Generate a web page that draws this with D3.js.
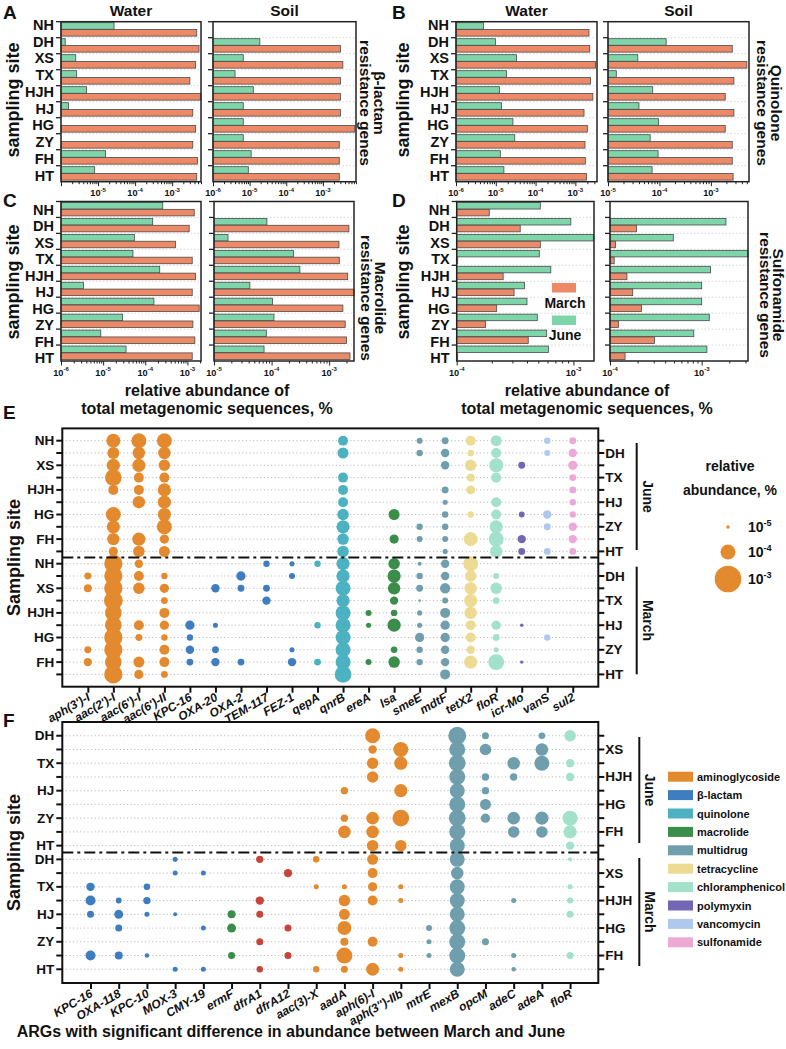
<!DOCTYPE html>
<html><head><meta charset="utf-8">
<script src="https://cdn.jsdelivr.net/npm/d3@7"></script>
<style>
body{margin:0;background:#fff}
svg{display:block}
text{font-family:"Liberation Sans",Arial,Helvetica,sans-serif;fill:#111}
</style>
</head><body>
<svg id="chart" width="786" height="1049"></svg>
<script>
// ---------------- DATA ----------------
const sites = ["NH","DH","XS","TX","HJH","HJ","HG","ZY","FH","HT"];
const seasons = ["March","June"];

// Panel A: beta-lactam resistance genes (relative abundance, %)
const betaWaterJune  = [2.7e-5,1.3e-6,2.5e-6,2.65e-6,4.9e-6,1.6e-6,0,0,1.6e-5,8.1e-6];
const betaWaterMarch = [4.6e-3,5.3e-3,4.3e-3,3.0e-3,6.0e-3,3.6e-3,4.3e-3,3.6e-3,4.8e-3,4.6e-3];
const betaSoilJune   = [0,1.9e-5,6.7e-6,4.0e-6,1.26e-5,6.7e-6,6.7e-6,6.7e-6,1.1e-5,9.2e-6];
const betaSoilMarch  = [0,3.0e-3,3.5e-3,3.0e-3,3.0e-3,3.0e-3,7.4e-3,2.8e-3,2.8e-3,2.8e-3];
// Panel B: quinolone
const quinWaterJune  = [4.9e-6,9.8e-6,3.3e-5,1.85e-5,1.24e-5,1.4e-5,2.7e-5,3.0e-5,1.3e-5,1.6e-5];
const quinWaterMarch = [2.2e-3,2.3e-3,3.2e-3,2.4e-3,2.75e-3,1.65e-3,2.0e-3,1.75e-3,1.78e-3,1.9e-3];
const quinSoilJune   = [0,1.35e-4,3.8e-5,1.45e-5,7.4e-5,4.0e-5,9.6e-5,6.6e-5,9.4e-5,7.2e-5];
const quinSoilMarch  = [0,2.6e-3,5.0e-3,2.8e-3,1.9e-3,2.8e-3,1.9e-3,2.6e-3,2.6e-3,2.7e-3];
// Panel C: macrolide
const macWaterJune   = [2.6e-4,1.5e-4,5.5e-5,5.1e-5,2.2e-4,3.4e-6,1.6e-4,2.9e-5,8.8e-6,3.5e-5];
const macWaterMarch  = [1.45e-3,1.1e-3,5.2e-4,1.3e-3,1.55e-3,1.3e-3,1.9e-3,1.35e-3,1.5e-3,1.3e-3];
const macSoilJune    = [0,8.3e-5,1.75e-5,2.4e-4,3.1e-4,4.2e-5,1.04e-4,1.1e-4,8.1e-5,7.4e-5];
const macSoilMarch   = [0,2.2e-3,1.48e-3,1.5e-3,2.1e-3,2.7e-3,1.73e-3,1.9e-3,2.0e-3,2.3e-3];
// Panel D: sulfonamide
const sulWaterJune   = [5.2e-4,9.5e-4,1.48e-3,5.1e-4,6.4e-4,3.8e-4,4.0e-4,4.9e-4,5.9e-4,6.1e-4];
const sulWaterMarch  = [1.9e-4,3.5e-4,5.2e-4,1.02e-4,2.5e-4,3.1e-4,2.2e-4,1.77e-4,4.1e-4,1.02e-4];
const sulSoilJune    = [0,1.84e-3,4.9e-4,3.2e-3,1.25e-3,1.0e-3,1.0e-3,1.21e-3,8.2e-4,1.14e-3];
const sulSoilMarch   = [0,1.95e-4,1.15e-4,1.11e-4,1.53e-4,1.77e-4,2.2e-4,1.24e-4,3.05e-4,1.46e-4];

// Panel E / F bubble values in units of 1e-5 % (0 = not detected)
const UNIT = 1e-5;
const eGenes = ["aph(3')-I","aac(2')-I","aac(6')-I","aac(6')-II","KPC-16","OXA-20","OXA-2","TEM-117","FEZ-1","qepA","qnrB","ereA","lsa","smeE","mdtF","tetX2","floR","icr-Mo","vanS","sul2"];
const eClass = ["aminoglycoside","aminoglycoside","aminoglycoside","aminoglycoside","β-lactam","β-lactam","β-lactam","β-lactam","β-lactam","quinolone","quinolone","macrolide","macrolide","multidrug","multidrug","tetracycline","chloramphenicol","polymyxin","vancomycin","sulfonamide"];
// rows: NH, DH, XS, TX, HJH, HJ, HG, ZY, FH, HT
const eJune = [
  [0,0,0,0,0,0,0,0,0,0],
  [8.2,5.5,7,14,3.7,0,10,7,6,3.2],
  [10,6,7,3.7,3.7,6,0,0,7,5],
  [10,6,5,3.7,7,7,7,10,3.2,4.5],
  [0,0,0,0,0,0,0,0,0,0],
  [0,0,0,0,0,0,0,0,0,0],
  [0,0,0,0,0,0,0,0,0,0],
  [0,0,0,0,0,0,0,0,0,0],
  [0,0,0,0,0,0,0,0,0,0],
  [0,0,0,0,0,0,0,0,0,0],
  [3.7,4.5,0,3.7,3.7,3.7,5,7,5,5],
  [0,0,0,0,0,0,0,0,0,0],
  [0,0,0,0,0,0,4.5,0,3.2,0],
  [1.67,1.8,0,0,0,0,0,1.8,1.67,0],
  [2.0,2.7,2.7,0,2.0,1.4,1.8,1.8,1.67,1.4],
  [3.7,1.8,5,2.7,3.0,0,1.8,0,8.2,0],
  [4.5,3.7,8.2,3.7,0,3.7,3.7,7,10,6],
  [0,0,2.0,0,0,0,1.6,0,2.7,2.0],
  [1.8,1.67,0,0,0,0,2.7,2.0,0,2.0],
  [2.0,2.7,3.2,2.0,2.0,1.8,1.8,2.7,2.7,2.0]
];
const eMarch = [
  [0,2.0,2.5,0,0,0,0,2.0,2.7,0],
  [19,19,19,21,14,14,19,19,14,19],
  [2.7,3.7,5,0,0,3.7,2.0,0,4.5,3.2],
  [0,1.8,3.2,2.0,3.7,3.2,1.8,3.7,3.7,2.0],
  [0,0,0,0,0,3.2,1.8,2.7,2.0,0],
  [0,0,2.7,0,0,1.4,0,2.0,2.7,0],
  [0,3.2,2.0,0,0,0,0,0,2.0,0],
  [1.8,0,2.0,2.7,0,0,0,0,0,0],
  [1.4,1.67,0,0,0,0,0,1.4,2.7,0],
  [1.8,0,0,0,0,1.8,0,0,2.0,0],
  [7,7,10,7,10,10,10,10,10,14],
  [0,0,0,0,1.67,1.4,0,0,1.67,0],
  [5,7,6,2.7,1.8,7,0,1.8,5,0],
  [1.13,1.8,2.0,0.85,1.4,1.4,3.2,1.8,1.8,0],
  [2.7,2.7,4.0,1.67,3.7,3.2,3.2,2.7,2.7,3.7],
  [10,5,6,7,6,3.7,3.7,2.7,7,0],
  [0,1.67,5,2.0,0,3.2,2.0,1.4,12,0],
  [0,0,0,0,0,1.0,0,0,1.0,0],
  [0,0,0,0,0,0,1.8,0,0,0],
  [0,0,0,0,0,0,0,0,0,0]
];

const fSites = ["DH","XS","TX","HJH","HJ","HG","ZY","FH","HT"];
const fGenes = ["KPC-16","OXA-118","KPC-10","MOX-3","CMY-19","ermF","dfrA1","dfrA12","aac(3)-X","aadA","aph(6)-I","aph(3'')-IIb","mtrE","mexB","opcM","adeC","adeA","floR"];
const fClass = ["β-lactam","β-lactam","β-lactam","β-lactam","β-lactam","macrolide","trimethoprim","trimethoprim","aminoglycoside","aminoglycoside","aminoglycoside","aminoglycoside","multidrug","multidrug","multidrug","multidrug","multidrug","chloramphenicol"];
// rows: DH, XS, TX, HJH, HJ, HG, ZY, FH, HT
const fJune = [
  [0,0,0,0,0,0,0,0,0],
  [0,0,0,0,0,0,0,0,0],
  [0,0,0,0,0,0,0,0,0],
  [0,0,0,0,0,0,0,0,0],
  [0,0,0,0,0,0,0,0,0],
  [0,0,0,0,0,0,0,0,0],
  [0,0,0,0,0,0,0,0,0],
  [0,0,0,0,0,0,0,0,0],
  [0,0,0,0,0,0,0,0,0],
  [0,0,0,0,2.2,0,2.2,6.2,0],
  [10,2.7,5,5,0,0,6.2,6.2,5],
  [0,10,7,0,7,0,14,0,5],
  [0,0,0,0,0,0,0,0,0],
  [18,12,14,12,10,12,14,12,10],
  [2.05,5,0,2.2,2.2,4.5,3.2,0,0],
  [0,0,6.2,2.2,0,0,6.2,5,0],
  [1.9,6.2,10,0,0,0,7,5,0],
  [5,0,2.7,2.7,0,0,10,7,2.7]
];
const fMarch = [
  [0,0,2.7,3.7,2.05,0,0,3.7,0],
  [0,0,0,1.67,3.0,2.05,0,2.5,0],
  [0,0,1.9,2.2,1.38,0,0,1.25,0],
  [1.38,1.38,0,0,1.13,0,0,0,1.38],
  [0,1.38,0,0,0,1.38,0,0,1.38],
  [0,0,0,0,2.5,3.0,0,2.05,0],
  [2.2,0,0,2.7,2.05,0,2.05,0,1.85],
  [0,2.7,0,0,0,2.05,0,2.05,0],
  [1.9,0,1.38,0,0,0,0,0,1.85],
  [0,0,1.38,5,4.5,8.2,2.5,12,2.05],
  [4.5,3.7,3.2,3.7,0,0,3.7,0,6.7],
  [0,0,1.38,1.38,0,0,0,1.38,1.38],
  [0,0,0,0,0,1.67,1.38,1.38,0],
  [10,6.2,10,10,10,12,12,12,10],
  [0,0,0,0,0,0,2.05,0,0],
  [0,0,0,1.38,0,0,0,1.38,1.25],
  [0,0,0,0,0,0,0,0,0],
  [1.13,0,1.38,1.67,2.05,0,0,2.05,0]
];
const legendClasses = ["aminoglycoside","β-lactam","quinolone","macrolide","multidrug","tetracycline","chloramphenicol","polymyxin","vancomycin","sulfonamide"];
const sizeLegend = [1e-5,1e-4,1e-3];

// ---------------- STYLE ----------------
const ORANGE = "#EC8A67", GREEN = "#7FD5AA";
const classColor = {
  "aminoglycoside":"#E48A2E","β-lactam":"#3E7DC0","quinolone":"#4CB2C1","macrolide":"#3A8E49",
  "multidrug":"#6F9EAC","tetracycline":"#EEDB93","chloramphenicol":"#A2E1CA","polymyxin":"#7366B6",
  "vancomycin":"#AEC8EE","sulfonamide":"#ECA9D6","trimethoprim":"#C8433A"
};
const svg = d3.select("#chart");
const rScale = d3.scaleLog().domain([1e-5,1e-3]).range([1.7,13.3]);

function T(g,x,y,s,o={}){
  const t=g.append("text").attr("x",x).attr("y",y).text(s)
    .attr("font-size",o.size||14).attr("font-weight",o.weight||"bold")
    .attr("text-anchor",o.anchor||"start");
  if(o.italic) t.attr("font-style","italic");
  if(o.baseline) t.attr("dominant-baseline",o.baseline);
  if(o.rotate!==undefined) t.attr("transform",`rotate(${o.rotate},${x},${y})`);
  return t;
}
function pow10(g,x,y,exp,size,anchor){
  const t=g.append("text").attr("x",x).attr("y",y).attr("text-anchor",anchor||"middle")
    .attr("font-size",size).attr("font-weight","bold");
  t.append("tspan").text("10");
  t.append("tspan").attr("dy",-size*0.45).attr("font-size",size*0.65).text("-"+(-exp));
  return t;
}

// ---------------- BAR PANELS ----------------
function barPanel(c){
  const g=svg.append("g");
  const x=d3.scaleLog().domain(c.domain).range([c.x0,c.x1]);
  const y=d3.scaleBand().domain(sites).range([c.y0,c.y1]);
  const bh=y.step()*0.41;
  g.selectAll(null).data(sites.slice(1)).join("line")
    .attr("x1",c.x0).attr("x2",c.x1).attr("y1",d=>y(d)).attr("y2",d=>y(d))
    .attr("stroke","#c4c4c4").attr("stroke-width",0.7).attr("stroke-dasharray","1.5,2");
  const jd=sites.map((s,i)=>({s,v:c.june[i]})).filter(d=>d.v>0);
  const md=sites.map((s,i)=>({s,v:c.march[i]})).filter(d=>d.v>0);
  g.selectAll(null).data(jd).join("rect")
    .attr("x",c.x0).attr("y",d=>y(d.s)+1).attr("width",d=>x(d.v)-c.x0).attr("height",bh)
    .attr("fill",GREEN).attr("stroke","#4a4a4a").attr("stroke-width",0.8);
  g.selectAll(null).data(md).join("rect")
    .attr("x",c.x0).attr("y",d=>y(d.s)+1.3+bh).attr("width",d=>x(d.v)-c.x0).attr("height",bh)
    .attr("fill",ORANGE).attr("stroke","#4a4a4a").attr("stroke-width",0.8);
  const tv=[];
  for(let e=-7;e<=-1;e++) for(let m=1;m<10;m++){const v=m*Math.pow(10,e); if(v>=c.domain[0]*0.999&&v<=c.domain[1]*1.001) tv.push(v);}
  const ax=g.append("g").attr("transform",`translate(0,${c.y1})`)
    .call(d3.axisBottom(x).tickValues(tv).tickFormat("").tickSizeOuter(0));
  ax.select(".domain").remove();
  ax.selectAll(".tick line").attr("stroke","#222").attr("stroke-width",1)
    .attr("y2",d=>Math.abs(Math.log10(d)-Math.round(Math.log10(d)))<1e-6?4.5:2.5);
  c.labels.forEach(e=>pow10(g,x(Math.pow(10,e)),c.y1+14.5,e,9.2));
  g.selectAll(null).data(sites).join("line")
    .attr("x1",c.x0-5).attr("x2",c.x0).attr("y1",d=>y(d)).attr("y2",d=>y(d))
    .attr("stroke","#222").attr("stroke-width",1.3);
  g.append("rect").attr("x",c.x0).attr("y",c.y0).attr("width",c.x1-c.x0).attr("height",c.y1-c.y0)
    .attr("fill","none").attr("stroke","#222").attr("stroke-width",1.5);
  if(c.siteLabels){
    const yl=d3.scalePoint().domain(sites).range(c.labelRange);
    sites.forEach(s=>T(g,c.x0-7,yl(s),s,{anchor:"end",size:14.5,baseline:"central"}));
  }
  if(c.title) T(g,(c.x0+c.x1)/2,16,c.title,{anchor:"middle",size:15.5});
}

const AB=[21.7,181.7], CD=[201.5,361];
barPanel({x0:61,x1:201,y0:AB[0],y1:AB[1],domain:[1e-6,6e-3],june:betaWaterJune,march:betaWaterMarch,labels:[-5,-4,-3],siteLabels:true,labelRange:[25,175.5],title:"Water"});
barPanel({x0:213,x1:356,y0:AB[0],y1:AB[1],domain:[1e-6,8e-3],june:betaSoilJune,march:betaSoilMarch,labels:[-6,-5,-4,-3],title:"Soil"});
barPanel({x0:456,x1:597,y0:AB[0],y1:AB[1],domain:[1e-6,3.5e-3],june:quinWaterJune,march:quinWaterMarch,labels:[-6,-5,-4,-3],siteLabels:true,labelRange:[25,175.5],title:"Water"});
barPanel({x0:608,x1:749,y0:AB[0],y1:AB[1],domain:[1e-5,5.5e-3],june:quinSoilJune,march:quinSoilMarch,labels:[-5,-4,-3],title:"Soil"});
barPanel({x0:61,x1:201,y0:CD[0],y1:CD[1],domain:[1e-6,2.1e-3],june:macWaterJune,march:macWaterMarch,labels:[-6,-5,-4,-3],siteLabels:true,labelRange:[209.5,358]});
barPanel({x0:214,x1:354,y0:CD[0],y1:CD[1],domain:[1e-5,2.7e-3],june:macSoilJune,march:macSoilMarch,labels:[-5,-4,-3]});
barPanel({x0:456.7,x1:594,y0:CD[0],y1:CD[1],domain:[1e-4,1.5e-3],june:sulWaterJune,march:sulWaterMarch,labels:[-4,-3],siteLabels:true,labelRange:[209.5,358]});
barPanel({x0:610,x1:748,y0:CD[0],y1:CD[1],domain:[1e-4,3.2e-3],june:sulSoilJune,march:sulSoilMarch,labels:[-4,-3]});

const lab=svg.append("g");
[["A",3,19],["B",392,19],["C",3,207],["D",392,207],["E",3,419],["F",3,727]].forEach(d=>T(lab,d[1],d[2],d[0],{size:19}));
[[13,100],[403,100],[13,282],[403,282]].forEach(p=>T(lab,p[0],p[1],"sampling site",{size:18,anchor:"middle",baseline:"central",rotate:-90}));
[[379,365,103,"β-lactam"],[776,762,103,"Quinolone"],[380,366,298,"Macrolide"],[778,765,295,"Sulfonamide"]].forEach(p=>{
  T(lab,p[0],p[2],p[3],{size:15.5,anchor:"middle",baseline:"central",rotate:90});
  T(lab,p[1],p[2],"resistance genes",{size:15.5,anchor:"middle",baseline:"central",rotate:90});
});
[207,587].forEach(cx=>{
  T(lab,cx,396,"relative abundance of",{size:16,anchor:"middle"});
  T(lab,cx,414,"total metagenomic sequences, %",{size:16,anchor:"middle"});
});
const lg=svg.append("g");
const legItems=[{k:"March",c:ORANGE,y:283},{k:"June",c:GREEN,y:315.5}];
lg.selectAll(null).data(legItems).join("rect").attr("x",552).attr("y",d=>d.y).attr("width",24).attr("height",9.5).attr("fill",d=>d.c);
legItems.forEach(d=>T(lg,565,d.y+24.5,d.k,{size:14,anchor:"middle"}));

// ---------------- DOT PANELS ----------------
function dotPanel(c){
  const g=svg.append("g");
  const half=c.rowNames.length, n=half*2;
  const x=d3.scalePoint().domain(c.genes).range([c.left,c.right]).padding(1);
  const y=d3.scalePoint().domain(d3.range(n)).range([c.top,c.bottom]).padding(1);
  g.selectAll(null).data(d3.range(n)).join("line")
    .attr("x1",c.left).attr("x2",c.right).attr("y1",d=>y(d)).attr("y2",d=>y(d))
    .attr("stroke","#9c9c9c").attr("stroke-width",0.8).attr("stroke-dasharray","1,2.6");
  const pts=[];
  c.genes.forEach((gn,gi)=>{for(let r=0;r<n;r++){const v=r<half?c.june[gi][r]:c.march[gi][r-half]; if(v>0) pts.push({gn,cl:c.classes[gi],r,v:v*UNIT});}});
  pts.sort((a,b)=>b.v-a.v);
  g.selectAll(null).data(pts).join("circle")
    .attr("cx",d=>x(d.gn)).attr("cy",d=>y(d.r)).attr("r",d=>Math.max(1.1,rScale(d.v)))
    .attr("fill",d=>classColor[d.cl]);
  const ys=(y(half-1)+y(half))/2;
  g.append("line").attr("x1",c.left).attr("x2",c.right).attr("y1",ys).attr("y2",ys)
    .attr("stroke","#111").attr("stroke-width",2).attr("stroke-dasharray","11,4,3,4");
  g.append("rect").attr("x",c.left).attr("y",c.top).attr("width",c.right-c.left).attr("height",c.bottom-c.top)
    .attr("fill","none").attr("stroke","#111").attr("stroke-width",2);
  g.selectAll(null).data(d3.range(n)).join("line").attr("x1",c.left-6).attr("x2",c.left).attr("y1",d=>y(d)).attr("y2",d=>y(d)).attr("stroke","#111").attr("stroke-width",2);
  g.selectAll(null).data(d3.range(n)).join("line").attr("x1",c.right).attr("x2",c.right+6).attr("y1",d=>y(d)).attr("y2",d=>y(d)).attr("stroke","#111").attr("stroke-width",2);
  const ax=g.append("g").attr("transform",`translate(0,${c.bottom})`).call(d3.axisBottom(x).tickFormat("").tickSize(6).tickSizeOuter(0));
  ax.select(".domain").remove();
  ax.selectAll(".tick line").attr("stroke","#111").attr("stroke-width",2);
  for(let r=0;r<n;r++){
    const k=r%half, name=c.rowNames[k];
    if(k%2===0) T(g,c.left-8,y(r),name,{anchor:"end",size:13.5,baseline:"central"});
    else T(g,c.right+7,y(r),name,{anchor:"start",size:13.5,baseline:"central"});
  }
  c.genes.forEach(gn=>{
    const px=x(gn)+3, py=c.bottom+13;
    T(g,px,py,gn,{anchor:"end",size:12,italic:true,rotate:-30});
  });
  c.brackets.forEach(b=>{
    g.append("line").attr("x1",b.x).attr("x2",b.x).attr("y1",b.y0).attr("y2",b.y1).attr("stroke","#111").attr("stroke-width",2);
    T(g,b.x+11,(b.y0+b.y1)/2,b.label,{size:14,anchor:"middle",baseline:"central",rotate:90});
  });
  T(g,14,(c.top+c.bottom)/2,"Sampling site",{size:18,anchor:"middle",baseline:"central",rotate:-90});
}

dotPanel({top:428.4,bottom:686.7,left:62.3,right:598.3,genes:eGenes,classes:eClass,rowNames:sites,june:eJune,march:eMarch,
  brackets:[{x:636.7,y0:443,y1:550,label:"June"},{x:636.7,y0:566.7,y1:674.3,label:"March"}]});
dotPanel({top:722,bottom:983,left:62.3,right:598.3,genes:fGenes,classes:fClass,rowNames:fSites,june:fJune,march:fMarch,
  brackets:[{x:639.3,y0:737,y1:843,label:"June"},{x:639.3,y0:858,y1:966,label:"March"}]});

const sl=svg.append("g");
T(sl,730,471,"relative",{size:14,anchor:"middle"});
T(sl,730,495,"abundance, %",{size:14,anchor:"middle"});
const sly=[527,552,579];
sl.selectAll(null).data(sizeLegend).join("circle").attr("cx",728).attr("cy",(d,i)=>sly[i]).attr("r",d=>rScale(d)).attr("fill",classColor.aminoglycoside);
sizeLegend.forEach((d,i)=>pow10(sl,748,sly[i]+5,Math.round(Math.log10(d)),14,"start"));

const cl=svg.append("g");
cl.selectAll(null).data(legendClasses).join("rect").attr("x",668).attr("y",(d,i)=>771.7+i*18.4).attr("width",25).attr("height",10).attr("fill",d=>classColor[d]);
legendClasses.forEach((d,i)=>T(cl,697,776.7+i*18.4,d,{size:11,baseline:"central"}));

T(svg,291,1037,"ARGs with significant difference in abundance between March and June",{size:16,anchor:"middle"});
</script>
</body></html>
